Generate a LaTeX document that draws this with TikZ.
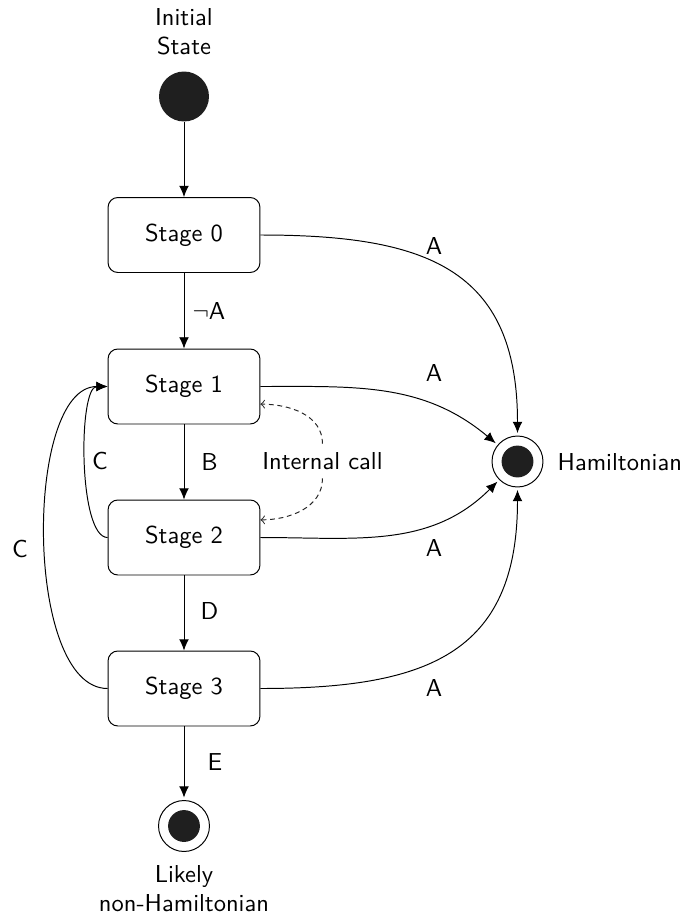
\documentclass[tikz,border=0pt]{standalone}
\usetikzlibrary{arrows.meta}
\begin{document}
\begin{tikzpicture}[x=0.40816pt,y=-0.40816pt,font=\sffamily,
  stagebox/.style={draw,rounded corners=4pt,minimum width=62pt,minimum height=30.6pt,inner sep=0pt},
  initstate/.style={circle,fill=black!88,minimum size=20.4pt,inner sep=0pt},
  finalstate/.style={circle,draw,minimum size=20.8pt,inner sep=0pt,outer sep=1.2pt,
    path picture={\fill[black!88] (path picture bounding box.center) circle (6.5pt);}},
  trans/.style={-{Latex[length=4.6pt,width=4pt]}},
  callarrow/.style={dash pattern=on 2pt off 1.5pt,black!85,-to},
  lbl/.style={inner sep=0pt}]
\useasboundingbox (0,0) rectangle (684,918);

% states
\node[initstate] (init) at (184,96.5) {};
\node[stagebox] (s0) at (184,235) {Stage 0};
\node[stagebox] (s1) at (184,386.5) {Stage 1};
\node[stagebox] (s2) at (184,537.5) {Stage 2};
\node[stagebox] (s3) at (184,688.5) {Stage 3};
\node[finalstate] (ham) at (517.5,461.5) {};
\node[finalstate] (nonham) at (184,826) {};

% state captions
\node[align=center] (initcap) at (184,31.5) {Initial\\State};
\node[align=center] (nonhamcap) at (184,888.5) {Likely\\non-Hamiltonian};
\node[anchor=west] (hamcap) at (549,462) {Hamiltonian};
\node (call) at (322.5,461) {Internal call};

% main chain
\draw[trans] (init) -- (s0);
\draw[trans] (s0) -- (s1);
\draw[trans] (s1) -- (s2);
\draw[trans] (s2) -- (s3);
\draw[trans] (s3) -- (nonham);

% success transitions
\draw[trans] (s0.east) to[out=0,in=90,looseness=1.3] (ham);
\draw[trans] (s1.east) to[out=0,in=140] (ham);
\draw[trans] (s2.east) to[out=0,in=-135] (ham);
\draw[trans] (s3.east) to[out=0,in=-90,looseness=1.3] (ham);

% back transitions
\draw[trans] (s2.west) to[out=180,in=180,looseness=0.5] (s1.west);
\draw[trans] (s3.west) to[out=180,in=180,looseness=0.71] (s1.west);

% internal call
\draw[callarrow] (call.north) to[out=90,in=0] (s1.-13);
\draw[callarrow] (call.south) to[out=-90,in=0] (s2.13);

% transition labels
\node[lbl] (lnA) at (209,311) {$\neg$A};
\node[lbl] (lA0) at (434,246) {A};
\node[lbl] (lA1) at (434,373) {A};
\node[lbl] (lA2) at (434,548) {A};
\node[lbl] (lA3) at (434,688) {A};
\node[lbl] (lB) at (209.5,462) {B};
\node[lbl] (lD) at (209.5,611) {D};
\node[lbl] (lE) at (215,762) {E};
\node[lbl] (lC1) at (100,461) {C};
\node[lbl] (lC2) at (20,549) {C};
\end{tikzpicture}
\end{document}
